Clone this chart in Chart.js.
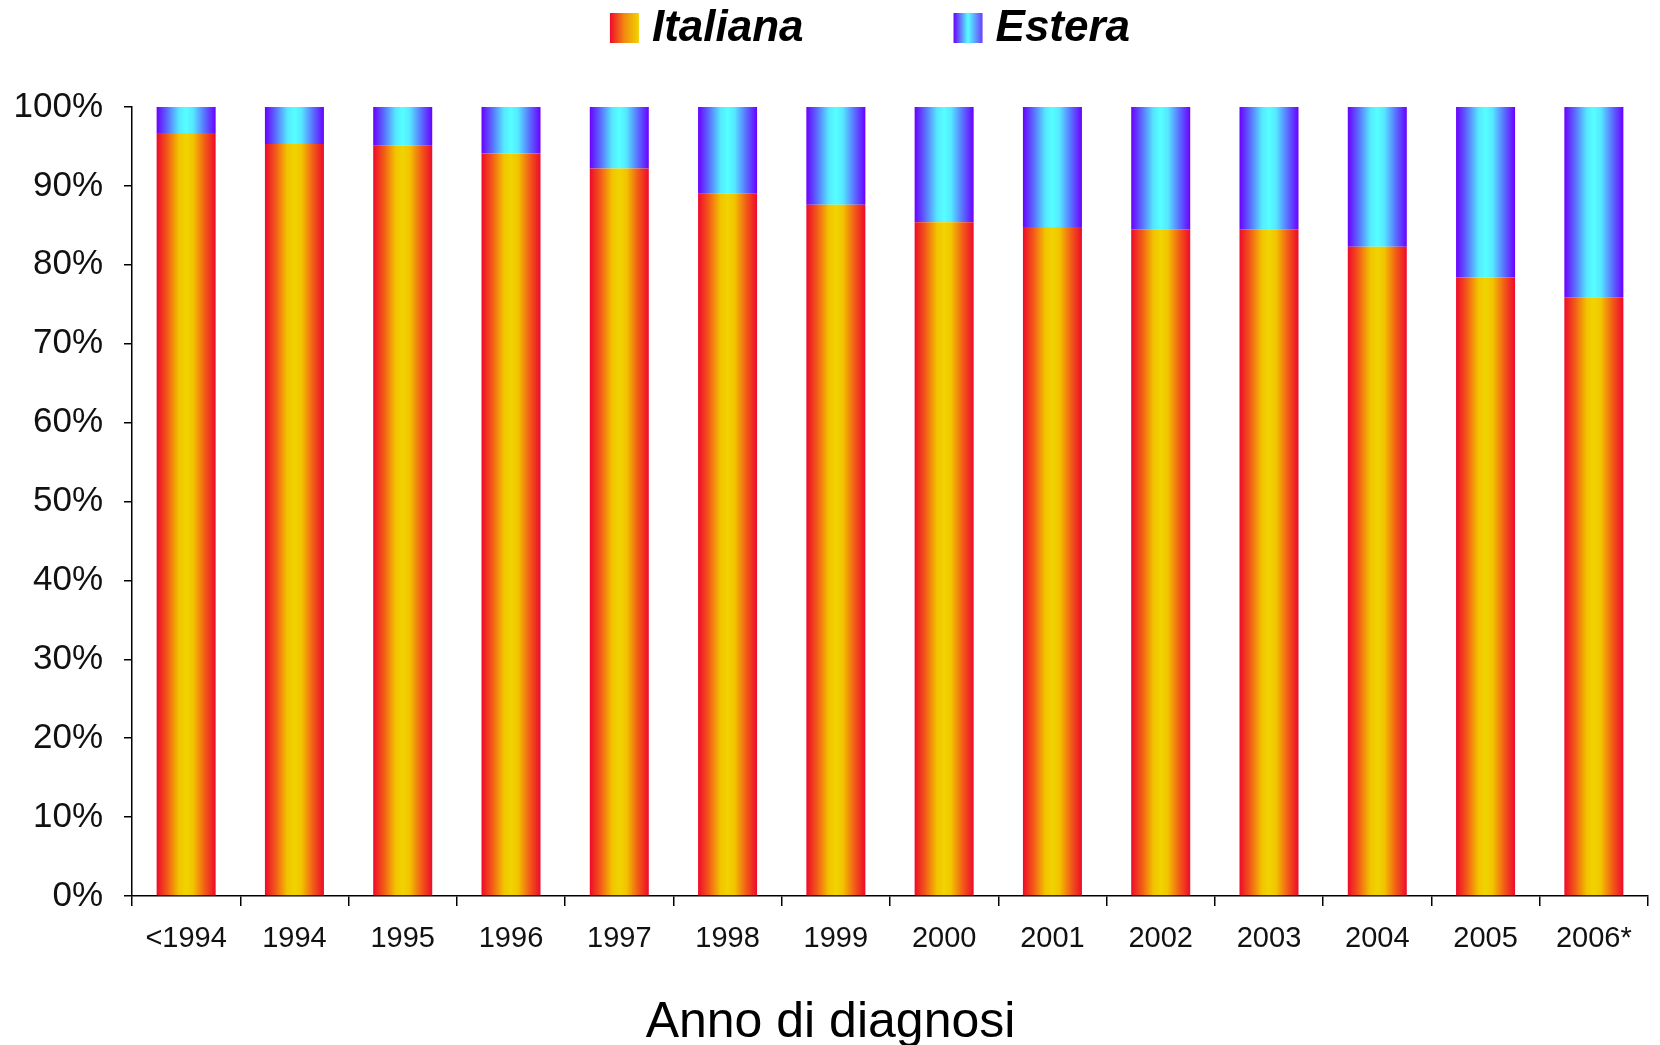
<!DOCTYPE html>
<html>
<head>
<meta charset="utf-8">
<script src="https://cdn.jsdelivr.net/npm/chart.js@4"></script>
<style>
  html, body { margin: 0; padding: 0; background: #fff; }
  #wrap { width: 1660px; height: 1045px; }
</style>
</head>
<body>
<div id="wrap"><canvas id="originChart"></canvas></div>
<script>
// data (percent of diagnoses per year)
const years = ['<1994', '1994', '1995', '1996', '1997', '1998', '1999', '2000', '2001', '2002', '2003', '2004', '2005', '2006*'];
const italiana = [96.7, 95.3, 95.1, 94.1, 92.2, 89.0, 87.6, 85.4, 84.8, 84.5, 84.5, 82.3, 78.4, 75.9];
const estera = [3.3, 4.7, 4.9, 5.9, 7.8, 11.0, 12.4, 14.6, 15.2, 15.5, 15.5, 17.7, 21.6, 24.1];
const yTicks = [0, 10, 20, 30, 40, 50, 60, 70, 80, 90, 100];

const BAR_PCT = 0.545;
const FONT = '"Liberation Sans", Arial, sans-serif';

// colour stops for the horizontal gradient inside each bar
const stopsItaliana = [[0, '#ee0a2a'], [0.18, '#f25a18'], [0.38, '#f2c400'], [0.5, '#f0d400'], [0.62, '#f2c400'], [0.82, '#f25a18'], [1, '#ee0a2a']];
const stopsEstera = [[0, '#6a00ff'], [0.18, '#5a6cff'], [0.38, '#55e8ff'], [0.5, '#55ffff'], [0.62, '#55e8ff'], [0.82, '#5a6cff'], [1, '#6a00ff']];

function barGradient(stops, fallback) {
  return function(ctx) {
    const chart = ctx.chart;
    const xs = chart.scales.x;
    if (ctx.type !== 'data' || !xs || !chart.chartArea) return fallback;
    const cx = xs.getPixelForValue(ctx.dataIndex);
    const half = (xs.width / years.length) * BAR_PCT / 2;
    const g = chart.ctx.createLinearGradient(cx - half, 0, cx + half, 0);
    stops.forEach(s => g.addColorStop(s[0], s[1]));
    return g;
  };
}

// legend drawn by hand so the two entries can sit far apart like the original
const legendPlugin = {
  id: 'gradLegend',
  afterDraw(chart) {
    const c = chart.ctx;
    c.save();
    c.font = 'italic bold 44px ' + FONT;
    c.textBaseline = 'middle';
    const items = [
      { text: 'Italiana', stops: [[0, '#ee0a2a'], [0.5, '#f28a10'], [1, '#f0d400']] },
      { text: 'Estera', stops: [[0, '#6a00ff'], [0.5, '#55ffff'], [1, '#6a3cff']] }
    ];
    const box = 29, gapText = 13, gapItem = 150;
    const widths = items.map(it => box + gapText + c.measureText(it.text).width);
    const total = widths[0] + gapItem + widths[1];
    let x = chart.width / 2 + 40 - total / 2;
    const y = 28;
    items.forEach((it, i) => {
      const g = c.createLinearGradient(x, 0, x + box, 0);
      it.stops.forEach(s => g.addColorStop(s[0], s[1]));
      c.fillStyle = g;
      c.fillRect(x, y - 15, box, 30);
      c.fillStyle = '#000';
      c.fillText(it.text, x + box + gapText, y + 1);
      x += widths[i] + gapItem;
    });
    c.restore();
  }
};

const ctx = document.getElementById('originChart').getContext('2d');
const chart = new Chart(ctx, {
  type: 'bar',
  data: {
    labels: years,
    datasets: [{
      label: 'Italiana',
      data: italiana,
      backgroundColor: barGradient(stopsItaliana, '#f2a000'),
      borderWidth: 0
    }, {
      label: 'Estera',
      data: estera,
      backgroundColor: barGradient(stopsEstera, '#55ffff'),
      borderWidth: 0
    }]
  },
  options: {
    responsive: true,
    maintainAspectRatio: false,
    animation: false,
    layout: { padding: { top: 107, right: 12, left: 13, bottom: 0 } },
    datasets: { bar: { categoryPercentage: 1, barPercentage: BAR_PCT } },
    plugins: {
      legend: { display: false },
      tooltip: { enabled: false },
      title: {
        display: true,
        position: 'bottom',
        text: 'Anno di diagnosi',
        color: '#000',
        font: { family: FONT, size: 50, weight: 'normal', lineHeight: 0.8 },
        padding: { top: 46, bottom: 2 }
      }
    },
    scales: {
      x: {
        stacked: true,
        afterFit: axis => { axis.height = 61; },
        grid: { display: true, offset: true, drawOnChartArea: false, tickLength: 10, color: '#000', lineWidth: 1.5 },
        border: { display: true, color: '#000', width: 1.5 },
        ticks: {
          color: '#111',
          padding: 16,
          maxRotation: 0,
          autoSkip: false,
          font: { family: FONT, size: 29 }
        }
      },
      y: {
        stacked: true,
        min: 0,
        max: 100,
        afterFit: axis => { axis.width = 119; },
        afterBuildTicks: axis => { axis.ticks = yTicks.map(v => ({ value: v })); },
        grid: { display: true, drawOnChartArea: false, tickLength: 8, color: '#000', lineWidth: 1.5 },
        border: { display: true, color: '#000', width: 1.5 },
        ticks: {
          color: '#111',
          padding: 21,
          callback: v => v + '%',
          font: { family: FONT, size: 35 }
        }
      }
    }
  },
  plugins: [legendPlugin]
});
</script>
</body>
</html>
